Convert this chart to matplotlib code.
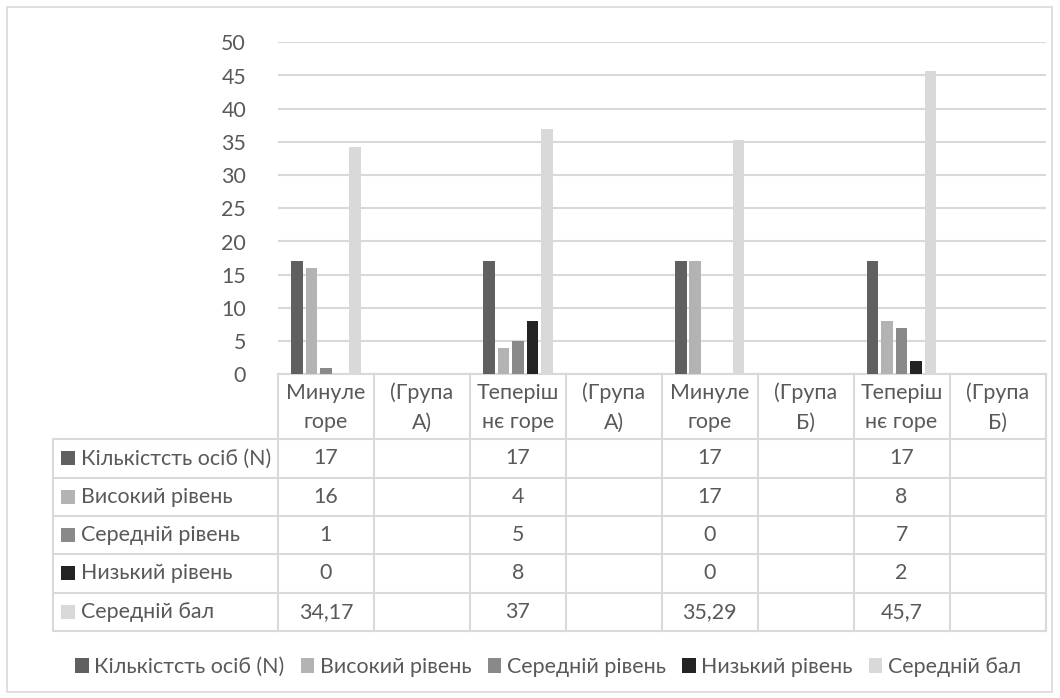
import numpy as np
import matplotlib
matplotlib.use("Agg")
import matplotlib.pyplot as plt
from matplotlib.patches import Patch, Rectangle
from matplotlib.lines import Line2D
from matplotlib.transforms import blended_transform_factory

plt.rcParams['font.family'] = ['Lato', 'Noto Sans', 'DejaVu Sans']

# Category labels (two-line headers of the data table)
categories = ["Минуле\nгоре", "(Група\nА)", "Теперіш\nнє горе", "(Група\nА)",
              "Минуле\nгоре", "(Група\nБ)", "Теперіш\nнє горе", "(Група\nБ)"]

series_names = ["Кількістсть осіб (N)", "Високий рівень", "Середній рівень",
                "Низький рівень", "Середній бал"]

nan = np.nan
count_n = [17, nan, 17, nan, 17, nan, 17, nan]
high_level = [16, nan, 4, nan, 17, nan, 8, nan]
mid_level = [1, nan, 5, nan, 0, nan, 7, nan]
low_level = [0, nan, 8, nan, 0, nan, 2, nan]
mean_score = [34.17, nan, 37, nan, 35.29, nan, 45.7, nan]

series_values = [count_n, high_level, mid_level, low_level, mean_score]
series_colors = ["#606060", "#b3b3b3", "#898989", "#232323", "#d9d9d9"]

y_ticks = [0, 5, 10, 15, 20, 25, 30, 35, 40, 45, 50]

TEXT = "#595959"
GRID = "#d9d9d9"
FS = 15.4
LW = 1.5

W, H = 1060, 698
fig = plt.figure(figsize=(W / 100, H / 100), dpi=100)

# full-figure overlay in pixel units for the frame and table
ov = fig.add_axes([0, 0, 1, 1], zorder=0)
ov.set_xlim(0, W)
ov.set_ylim(H, 0)
ov.axis("off")
ov.add_patch(Rectangle((7, 7), 1045, 685, fill=False, edgecolor=GRID, lw=1.2))

# plot area
left, right, top, bottom = 278, 1045.5, 42.3, 374.3
ax = fig.add_axes([left / W, 1 - bottom / H, (right - left) / W, (bottom - top) / H], zorder=1)
ax.patch.set_alpha(0)
n = len(categories)
ax.set_xlim(-0.5, n - 0.5)
ax.set_ylim(0, 50)
ax.set_yticks(y_ticks)
ax.set_yticklabels([str(t) for t in y_ticks])
ax.tick_params(axis="y", length=0, pad=23, labelsize=FS, labelcolor=TEXT)
ax.tick_params(axis="x", length=0, labelbottom=False)
ax.grid(axis="y", color=GRID, lw=LW)
ax.set_axisbelow(True)
for s in ax.spines.values():
    s.set_visible(False)

x = np.arange(n)
step = 0.151
width = 0.121
for i, (vals, col) in enumerate(zip(series_values, series_colors)):
    v = np.array(vals, dtype=float)
    mask = ~np.isnan(v)
    ax.bar(x[mask] + (i - 2) * step, v[mask], width=width, color=col, zorder=3)

# data table below the plot area
tr = blended_transform_factory(ax.transData, ov.transData)
row_top = 374.0
header_bottom = 439.3
row_h = 38.3
n_rows = len(series_names)
table_bottom = header_bottom + n_rows * row_h
label_left = 53

edges = np.arange(n + 1) - 0.5
for e in edges:
    ov.add_line(Line2D([e, e], [row_top, table_bottom], transform=tr, color=GRID, lw=LW))
ov.add_line(Line2D([-0.5, n - 0.5], [row_top, row_top], transform=tr, color=GRID, lw=LW))
ov.add_line(Line2D([label_left, label_left], [header_bottom, table_bottom], color=GRID, lw=LW))
for r in range(n_rows + 1):
    yy = header_bottom + r * row_h
    ov.add_line(Line2D([label_left, right], [yy, yy], color=GRID, lw=LW))

for j, cat in enumerate(categories):
    ov.text(j, (row_top + header_bottom) / 2 + 1, cat, transform=tr, ha="center", va="center",
            fontsize=FS, color=TEXT, linespacing=1.6)


def fmt(v):
    if np.isnan(v):
        return ""
    return f"{v:g}".replace(".", ",")


for r, (name, vals, col) in enumerate(zip(series_names, series_values, series_colors)):
    yc = header_bottom + (r + 0.5) * row_h
    ov.add_patch(Rectangle((61, yc - 7), 14, 14, color=col, lw=0))
    ov.text(81, yc, name, ha="left", va="center", fontsize=FS, color=TEXT)
    for j, v in enumerate(vals):
        t = fmt(float(v))
        if t:
            ov.text(j, yc, t, transform=tr, ha="center", va="center", fontsize=FS, color=TEXT)

# legend at the bottom
handles = [Patch(facecolor=c, edgecolor="none") for c in series_colors]
fig.legend(handles, series_names, loc="center", bbox_to_anchor=(548 / W, 1 - 667 / H),
           ncol=5, frameon=False, fontsize=FS, labelcolor=TEXT,
           handlelength=0.65, handleheight=0.65, handletextpad=0.25, columnspacing=0.75)

fig.savefig("out.png", dpi=100)
